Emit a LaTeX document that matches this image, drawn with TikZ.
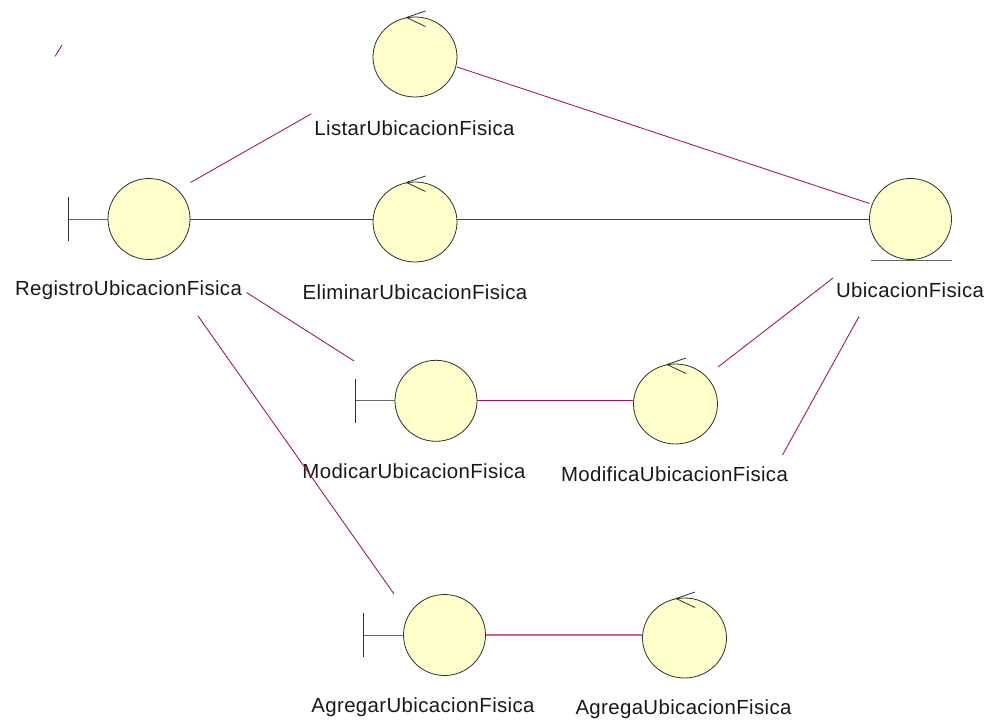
\documentclass[tikz,border=0pt]{standalone}
\usepackage{fontspec}
\setmainfont[LetterSpace=1.8]{Liberation Sans}
\usetikzlibrary{shapes.geometric,calc}
\definecolor{assoc}{HTML}{B01048}
\definecolor{assocpale}{HTML}{D06088}
\definecolor{bubble}{HTML}{FFFFCC}
\definecolor{ink}{HTML}{303030}
\tikzset{
  x=1pt,y=-1pt,
  ent/.style={ellipse,draw=ink,fill=bubble,line width=0.8pt,inner sep=0pt,minimum width=82pt,minimum height=81pt},
  ctl/.style={ellipse,draw=ink,fill=bubble,line width=0.8pt,inner sep=0pt,minimum width=84pt,minimum height=80pt},
  lbl/.style={inner sep=0pt,font=\fontsize{20.4}{23}\selectfont,text=black!90},
  assocline/.style={draw=assoc,line width=0.85pt},
  hassoc/.style={draw=assoc,line width=0.85pt},
  pale/.style={draw=assocpale,line width=1.2pt},
  glyph/.style={draw=ink,line width=0.8pt},
  stub/.style={draw=black!60,line width=0.9pt}
}
\begin{document}
\begin{tikzpicture}
\useasboundingbox (0,0) rectangle (997,722);
% nodes
\node[ctl] (listar) at (415,57) {};
\node[ctl] (elim) at (415,222) {};
\node[ent] (reg) at (149,219) {};
\node[ent] (ubi) at (910.5,219) {};
\node[ent] (modi) at (436,400.8) {};
\node[ctl] (modf) at (675.5,404) {};
\node[ent] (agr) at (444.5,635) {};
\node[ctl] (agf) at (684.5,638) {};
% labels
\node[lbl] (llistar) at (414.5,128) {ListarUbicacionFisica};
\node[lbl] (lreg) at (128.5,290) {RegistroUbicacionFisica};
\node[lbl] (lelim) at (415,292) {EliminarUbicacionFisica};
\node[lbl] (lubi) at (910,290) {UbicacionFisica};
\node[lbl] (lmodi) at (414,471) {ModicarUbicacionFisica};
\node[lbl] (lmodf) at (674.5,474) {ModificaUbicacionFisica};
\node[lbl] (lagr) at (423,707) {AgregarUbicacionFisica};
\node[lbl] (lagf) at (683.5,709) {AgregaUbicacionFisica};
% free ends
\coordinate (s1) at (55,56.5);
\coordinate (s2) at (62,45);
\coordinate (a1) at (190.5,182.5);
\coordinate (a2) at (311,114);
\coordinate (b1) at (246.5,292.5);
\coordinate (b2) at (354,361);
\coordinate (c1) at (198,316);
\coordinate (c2) at (394,594);
\coordinate (d1) at (718,367);
\coordinate (d2) at (833,278);
\coordinate (e1) at (782.5,455);
\coordinate (e2) at (859,316.5);
\coordinate (f1) at (457,67);
\coordinate (f2) at (869.5,203.5);
% connectors
\draw[assocline] (s1) -- (s2);
\draw[assocline] (a1) -- (a2);
\draw[assocline] (b1) -- (b2);
\draw[assocline] (c1) -- (c2);
\draw[assocline] (d1) -- (d2);
\draw[assocline] (e1) -- (e2);
\draw[assocline] (f1) -- (f2);
\draw[hassoc] (reg.east) -- (reg.east -| elim.west);
\draw[hassoc] (reg.east -| elim.east) -- (reg.east -| ubi.west);
\draw[hassoc] (modi.east) -- (modi.east -| modf.west);
\draw[pale] (agr.east) -- (agr.east -| agf.west);
% boundary glyphs
\coordinate (regbar) at (68,219);
\coordinate (modibar) at (355,400.8);
\coordinate (agrbar) at (363.5,635);
\draw[stub] (regbar) -- (reg.west);
\draw[stub] (modibar) -- (modi.west);
\draw[stub] (agrbar) -- (agr.west);
\draw[glyph] ($(regbar)+(0,-22)$) -- ($(regbar)+(0,22)$);
\draw[glyph] ($(modibar)+(0,-22)$) -- ($(modibar)+(0,22)$);
\draw[glyph] ($(agrbar)+(0,-22)$) -- ($(agrbar)+(0,22)$);
% entity underline
\draw[stub] (870.5,260) -- (952,260);
% control arrows
\coordinate (cA) at (415,57);
\coordinate (cB) at (415,222);
\coordinate (cC) at (675.5,404);
\coordinate (cD) at (684.5,638);
\foreach \c in {cA,cB,cC,cD}{
  \draw[glyph] ($(\c)+(10.5,-46)$) -- ($(\c)+(-8.5,-39.5)$) -- ($(\c)+(10.5,-30.5)$);
}
\end{tikzpicture}
\end{document}
